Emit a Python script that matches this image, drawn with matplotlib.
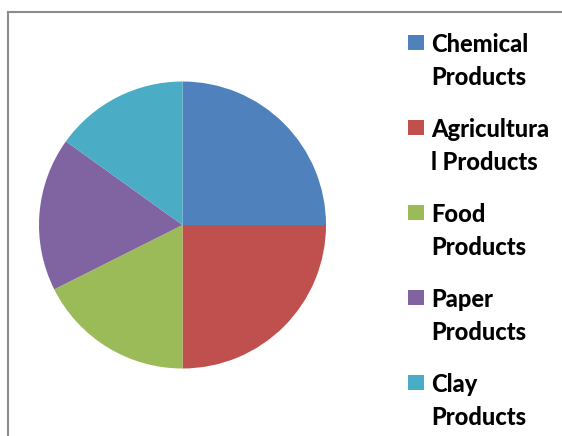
import matplotlib
matplotlib.use("Agg")
import matplotlib.pyplot as plt
from matplotlib.patches import Rectangle
from matplotlib.lines import Line2D

labels = [("Chemical", "Products"), ("Agricultura", "l Products"), ("Food", "Products"),
          ("Paper", "Products"), ("Clay", "Products")]
values = [25, 25, 17.6, 17.3, 15.1]
colors = ["#4F81BD", "#C0504D", "#9BBB59", "#8064A2", "#4BACC6"]

W, H = 562, 436
fig = plt.figure(figsize=(W / 100, H / 100), dpi=100)

# chart area border (cropped at right and bottom)
fig.add_artist(Line2D([8 / W, 8 / W], [0, 1 - 12 / H], color="#8c8c8c", lw=1.5))
fig.add_artist(Line2D([8 / W, 1], [1 - 12 / H, 1 - 12 / H], color="#8c8c8c", lw=1.5))

ax = fig.add_axes([39 / W, 67.5 / H, 287 / W, 287 / H])
ax.pie(values, colors=colors, startangle=90, counterclock=False,
       wedgeprops=dict(linewidth=0))
ax.set_xlim(-1, 1)
ax.set_ylim(-1, 1)
ax.set_aspect("equal")
ax.axis("off")

# legend
for i, (lab, c) in enumerate(zip(labels, colors)):
    base = 51.7 + i * 85
    fig.add_artist(Rectangle((408 / W, 1 - (base - 1.5) / H), 16 / W, 15 / H,
                             transform=fig.transFigure, color=c, lw=0))
    for j, line in enumerate(lab):
        fig.text(431 / W, 1 - (base + j * 33) / H, line, fontsize=17,
                 fontweight="black", family=["Lato", "DejaVu Sans"],
                 va="baseline", ha="left")

fig.savefig("out.png", dpi=100)
